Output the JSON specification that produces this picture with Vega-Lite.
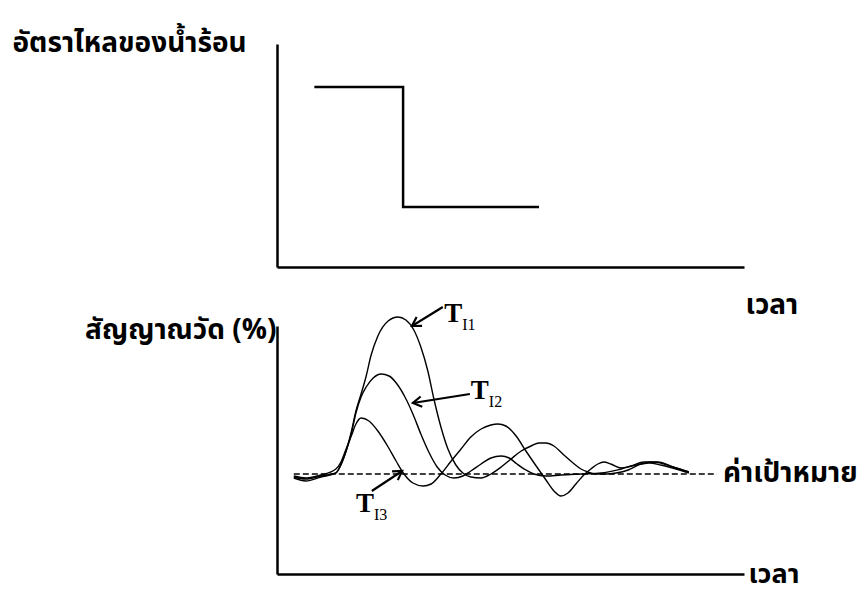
{
  "$schema": "https://vega.github.io/schema/vega-lite/v6.json",
  "background": "white",
  "padding": {"left": 12, "top": 29, "right": 4, "bottom": 10},
  "spacing": 59,
  "bounds": "flush",
  "config": {
    "view": {"stroke": null},
    "font": "Noto Sans Thai, Noto Sans, DejaVu Sans, sans-serif",
    "axis": {
      "domain": true,
      "domainColor": "black",
      "domainWidth": 2.5,
      "ticks": false,
      "labels": false,
      "grid": false,
      "titleColor": "black",
      "titleFontSize": 28,
      "titleFontWeight": "bold",
      "titleAngle": 0,
      "titleBaseline": "alphabetic"
    }
  },
  "datasets": {
    "flow": [
      {"t": 8.0, "rate": 90},
      {"t": 27.0, "rate": 30},
      {"t": 56.1, "rate": 30}
    ],
    "setpoint": [
      {"t": 3.6, "t_end": 94.2, "level": 50, "label": "ค่าเป้าหมาย"}
    ],
    "signal": [
      {"series": "TI1", "t": 3.6, "v": 48.5},
      {"series": "TI1", "t": 6.2, "v": 47.5},
      {"series": "TI1", "t": 9.4, "v": 49},
      {"series": "TI1", "t": 12.6, "v": 50.5},
      {"series": "TI1", "t": 13.7, "v": 54.5},
      {"series": "TI1", "t": 14.8, "v": 61.5},
      {"series": "TI1", "t": 15.9, "v": 71},
      {"series": "TI1", "t": 16.9, "v": 81.5},
      {"series": "TI1", "t": 18.0, "v": 90},
      {"series": "TI1", "t": 19.1, "v": 99},
      {"series": "TI1", "t": 20.1, "v": 109},
      {"series": "TI1", "t": 21.6, "v": 119},
      {"series": "TI1", "t": 23.8, "v": 126.5},
      {"series": "TI1", "t": 25.9, "v": 128.5},
      {"series": "TI1", "t": 27.6, "v": 127},
      {"series": "TI1", "t": 29.3, "v": 122},
      {"series": "TI1", "t": 30.8, "v": 113.5},
      {"series": "TI1", "t": 32.3, "v": 101.5},
      {"series": "TI1", "t": 33.6, "v": 87.5},
      {"series": "TI1", "t": 35.1, "v": 73.5},
      {"series": "TI1", "t": 36.6, "v": 62.5},
      {"series": "TI1", "t": 38.3, "v": 54.5},
      {"series": "TI1", "t": 39.8, "v": 50.5},
      {"series": "TI1", "t": 41.5, "v": 48.5},
      {"series": "TI1", "t": 43.7, "v": 48},
      {"series": "TI1", "t": 45.8, "v": 50},
      {"series": "TI1", "t": 48.0, "v": 53.5},
      {"series": "TI1", "t": 50.1, "v": 57.5},
      {"series": "TI1", "t": 52.3, "v": 61.5},
      {"series": "TI1", "t": 54.4, "v": 64},
      {"series": "TI1", "t": 56.1, "v": 65.5},
      {"series": "TI1", "t": 57.6, "v": 65.5},
      {"series": "TI1", "t": 59.3, "v": 64},
      {"series": "TI1", "t": 61.2, "v": 60},
      {"series": "TI1", "t": 63.4, "v": 55.5},
      {"series": "TI1", "t": 65.1, "v": 52.5},
      {"series": "TI1", "t": 66.6, "v": 51},
      {"series": "TI1", "t": 68.3, "v": 50},
      {"series": "TI1", "t": 70.5, "v": 50},
      {"series": "TI1", "t": 72.6, "v": 50.5},
      {"series": "TI1", "t": 75.2, "v": 52},
      {"series": "TI1", "t": 77.9, "v": 55},
      {"series": "TI1", "t": 80.1, "v": 56},
      {"series": "TI1", "t": 82.2, "v": 55.5},
      {"series": "TI1", "t": 84.8, "v": 53.5},
      {"series": "TI1", "t": 88.2, "v": 51},

      {"series": "TI2", "t": 3.6, "v": 48},
      {"series": "TI2", "t": 6.2, "v": 46.5},
      {"series": "TI2", "t": 9.4, "v": 48.5},
      {"series": "TI2", "t": 12.6, "v": 50.5},
      {"series": "TI2", "t": 13.7, "v": 55},
      {"series": "TI2", "t": 14.8, "v": 61.5},
      {"series": "TI2", "t": 15.9, "v": 70},
      {"series": "TI2", "t": 16.9, "v": 80.5},
      {"series": "TI2", "t": 18.0, "v": 88.5},
      {"series": "TI2", "t": 19.1, "v": 93.5},
      {"series": "TI2", "t": 20.6, "v": 98},
      {"series": "TI2", "t": 22.3, "v": 100},
      {"series": "TI2", "t": 24.0, "v": 99},
      {"series": "TI2", "t": 25.7, "v": 95},
      {"series": "TI2", "t": 27.4, "v": 88.5},
      {"series": "TI2", "t": 29.1, "v": 80},
      {"series": "TI2", "t": 30.8, "v": 70},
      {"series": "TI2", "t": 32.5, "v": 61},
      {"series": "TI2", "t": 34.3, "v": 53.5},
      {"series": "TI2", "t": 36.0, "v": 49.5},
      {"series": "TI2", "t": 37.9, "v": 48},
      {"series": "TI2", "t": 39.8, "v": 49},
      {"series": "TI2", "t": 41.5, "v": 51.5},
      {"series": "TI2", "t": 43.7, "v": 55},
      {"series": "TI2", "t": 45.8, "v": 58},
      {"series": "TI2", "t": 48.0, "v": 59},
      {"series": "TI2", "t": 49.7, "v": 58},
      {"series": "TI2", "t": 51.4, "v": 55},
      {"series": "TI2", "t": 53.3, "v": 52},
      {"series": "TI2", "t": 55.0, "v": 50},
      {"series": "TI2", "t": 57.6, "v": 49},
      {"series": "TI2", "t": 60.8, "v": 49.5},
      {"series": "TI2", "t": 65.1, "v": 50},
      {"series": "TI2", "t": 69.4, "v": 50.5},
      {"series": "TI2", "t": 73.7, "v": 52.5},
      {"series": "TI2", "t": 76.9, "v": 54.5},
      {"series": "TI2", "t": 79.7, "v": 55.5},
      {"series": "TI2", "t": 82.2, "v": 54.5},
      {"series": "TI2", "t": 88.2, "v": 50.5},

      {"series": "TI3", "t": 3.6, "v": 49},
      {"series": "TI3", "t": 6.2, "v": 48},
      {"series": "TI3", "t": 9.4, "v": 49.5},
      {"series": "TI3", "t": 12.6, "v": 52.5},
      {"series": "TI3", "t": 13.7, "v": 56},
      {"series": "TI3", "t": 14.8, "v": 62.5},
      {"series": "TI3", "t": 15.9, "v": 69},
      {"series": "TI3", "t": 16.9, "v": 75},
      {"series": "TI3", "t": 18.0, "v": 78},
      {"series": "TI3", "t": 19.7, "v": 76.5},
      {"series": "TI3", "t": 21.6, "v": 71.5},
      {"series": "TI3", "t": 23.8, "v": 63.5},
      {"series": "TI3", "t": 25.5, "v": 56.5},
      {"series": "TI3", "t": 27.2, "v": 50},
      {"series": "TI3", "t": 29.1, "v": 45.5},
      {"series": "TI3", "t": 31.3, "v": 44},
      {"series": "TI3", "t": 33.0, "v": 45},
      {"series": "TI3", "t": 35.1, "v": 50},
      {"series": "TI3", "t": 37.3, "v": 56.5},
      {"series": "TI3", "t": 39.4, "v": 62.5},
      {"series": "TI3", "t": 41.5, "v": 68.5},
      {"series": "TI3", "t": 43.7, "v": 72.5},
      {"series": "TI3", "t": 45.8, "v": 74.5},
      {"series": "TI3", "t": 47.3, "v": 75},
      {"series": "TI3", "t": 49.0, "v": 74},
      {"series": "TI3", "t": 51.2, "v": 69},
      {"series": "TI3", "t": 53.3, "v": 61.5},
      {"series": "TI3", "t": 55.5, "v": 54},
      {"series": "TI3", "t": 57.6, "v": 47},
      {"series": "TI3", "t": 59.3, "v": 41.5},
      {"series": "TI3", "t": 60.8, "v": 39},
      {"series": "TI3", "t": 62.3, "v": 40.5},
      {"series": "TI3", "t": 64.0, "v": 45},
      {"series": "TI3", "t": 65.7, "v": 49.5},
      {"series": "TI3", "t": 67.2, "v": 52.5},
      {"series": "TI3", "t": 68.7, "v": 55},
      {"series": "TI3", "t": 70.0, "v": 56},
      {"series": "TI3", "t": 71.5, "v": 55},
      {"series": "TI3", "t": 73.7, "v": 53},
      {"series": "TI3", "t": 75.8, "v": 54},
      {"series": "TI3", "t": 78.6, "v": 56},
      {"series": "TI3", "t": 81.6, "v": 56},
      {"series": "TI3", "t": 84.8, "v": 53.5},
      {"series": "TI3", "t": 88.2, "v": 51}
    ],
    "callouts": [
      {"main": "T", "sub": "I1", "lt": 35.8, "lv": 126, "t": 35.5, "v": 133.5, "t2": 28.9, "v2": 124},
      {"main": "T", "sub": "I2", "lt": 41.5, "lv": 87.5, "t": 41.3, "v": 90, "t2": 29.1, "v2": 85.5},
      {"main": "T", "sub": "I3", "lt": 16.9, "lv": 31, "t": 20.3, "v": 41.5, "t2": 26.8, "v2": 51.5}
    ]
  },
  "vconcat": [
    {
      "width": 467,
      "height": 223,
      "data": {"name": "flow"},
      "mark": {"type": "line", "interpolate": "step-after", "color": "black", "strokeWidth": 2.5},
      "encoding": {
        "x": {
          "field": "t", "type": "quantitative",
          "scale": {"domain": [0, 100], "nice": false, "zero": false},
          "axis": {"title": "เวลา", "titleAlign": "left", "titleAnchor": "start", "titleX": 468, "titleY": 46}
        },
        "y": {
          "field": "rate", "type": "quantitative",
          "scale": {"domain": [0, 111.5], "nice": false},
          "axis": {"title": "อัตราไหลของน้ำร้อน", "titleAlign": "left", "titleAnchor": "start", "titleX": -265, "titleY": 7}
        }
      }
    },
    {
      "width": 467,
      "height": 248,
      "layer": [
        {
          "data": {"name": "setpoint"},
          "mark": {"type": "rule", "color": "black", "strokeWidth": 1.3, "strokeDash": [6, 3]},
          "encoding": {
            "x": {
              "field": "t", "type": "quantitative",
              "scale": {"domain": [0, 100], "nice": false, "zero": false},
              "axis": {"title": "เวลา", "titleAlign": "left", "titleAnchor": "start", "titleX": 471, "titleY": 8, "titleFontSize": 27}
            },
            "x2": {"field": "t_end"},
            "y": {
              "field": "level", "type": "quantitative",
              "scale": {"domain": [0, 124], "nice": false},
              "axis": {"title": "สัญญาณวัด (%)", "titleAlign": "right", "titleAnchor": "start", "titleX": -1, "titleY": 12}
            }
          }
        },
        {
          "data": {"name": "setpoint"},
          "mark": {"type": "text", "align": "left", "baseline": "middle", "dx": 6, "fontSize": 28, "fontWeight": "bold", "color": "black"},
          "encoding": {
            "x": {"field": "t_end", "type": "quantitative"},
            "y": {"field": "level", "type": "quantitative"},
            "text": {"field": "label"}
          }
        },
        {
          "data": {"name": "signal"},
          "mark": {"type": "line", "interpolate": "monotone", "color": "black", "strokeWidth": 1.4},
          "encoding": {
            "x": {"field": "t", "type": "quantitative"},
            "y": {"field": "v", "type": "quantitative"},
            "detail": {"field": "series"}
          }
        },
        {
          "data": {"name": "callouts"},
          "mark": {"type": "rule", "color": "black", "strokeWidth": 2.2},
          "encoding": {
            "x": {"field": "t", "type": "quantitative"},
            "y": {"field": "v", "type": "quantitative"},
            "x2": {"field": "t2"},
            "y2": {"field": "v2"}
          }
        },
        {
          "data": {"name": "callouts"},
          "transform": [
            {"calculate": "atan2((datum.t2 - datum.t) * 4.67, (datum.v2 - datum.v) * 2) * 180 / PI", "as": "heading"}
          ],
          "mark": {"type": "point", "shape": "M -0.6 1 L 0 0 L 0.6 1", "filled": false, "color": "black", "strokeWidth": 2.2, "size": 300, "opacity": 1},
          "encoding": {
            "x": {"field": "t2", "type": "quantitative"},
            "y": {"field": "v2", "type": "quantitative"},
            "angle": {"field": "heading", "type": "quantitative", "scale": null}
          }
        },
        {
          "data": {"name": "callouts"},
          "mark": {"type": "text", "align": "left", "baseline": "alphabetic", "font": "Liberation Serif", "fontSize": 27, "fontWeight": "bold", "color": "black"},
          "encoding": {
            "x": {"field": "lt", "type": "quantitative"},
            "y": {"field": "lv", "type": "quantitative"},
            "text": {"field": "main"}
          }
        },
        {
          "data": {"name": "callouts"},
          "mark": {"type": "text", "align": "left", "baseline": "alphabetic", "dx": 18, "dy": 8, "font": "Liberation Serif", "fontSize": 16, "color": "black"},
          "encoding": {
            "x": {"field": "lt", "type": "quantitative"},
            "y": {"field": "lv", "type": "quantitative"},
            "text": {"field": "sub"}
          }
        }
      ]
    }
  ]
}
